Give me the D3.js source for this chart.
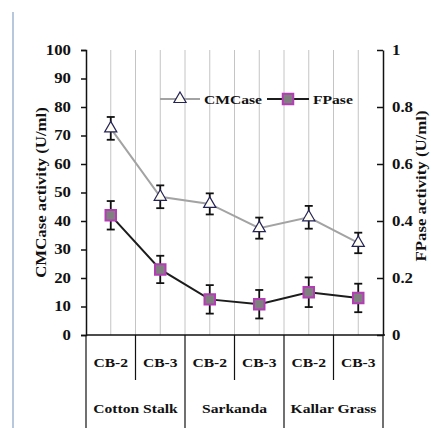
<!DOCTYPE html>
<meta charset="utf-8">
<style>
    body { margin: 0; background: #fff; }
    text { font-family: "Liberation Serif", "Times New Roman", serif; font-weight: bold; fill: #111; }
    .grid line { stroke: #c4c4c4; stroke-width: 1; }
</style>
<body>
<script src="https://d3js.org/d3.v7.min.js"></script>
<script>
    // data
    var groups = ["Cotton Stalk", "Sarkanda", "Kallar Grass"];
    var strains = ["CB-2", "CB-3"];
    var cmcase = [72.5, 48.5, 46, 37.5, 41.3, 32.3];
    var cmcaseErr = [4, 4, 3.7, 3.7, 4, 3.6];
    var fpase = [0.42, 0.23, 0.125, 0.108, 0.15, 0.13];
    var fpaseErr = [0.05, 0.048, 0.05, 0.05, 0.052, 0.05];
    var leftTicks = [0, 10, 20, 30, 40, 50, 60, 70, 80, 90, 100];
    var rightTicks = [0, 0.2, 0.4, 0.6, 0.8, 1];

    // one key per point
    var keys = [];
    groups.forEach(function(g) {
        strains.forEach(function(s) { keys.push(g + "|" + s); });
    });

    var W = 431, H = 428;
    var plotL = 86, plotR = 383, plotT = 50, plotB = 335;
    var sx = "scale(1.2,1)";

    var x = d3.scaleBand().domain(keys).range([plotL, plotR]).padding(0);
    var yL = d3.scaleLinear().domain([0, 100]).range([plotB, plotT]);
    var yR = d3.scaleLinear().domain([0, 1]).range([plotB, plotT]);
    var cx = function(i) { return x(keys[i]) + x.bandwidth() / 2; };

    var svg = d3.select("body").append("svg")
        .attr("width", W)
        .attr("height", H);

    // thin blue frame line on the left
    svg.append("line")
        .attr("x1", 13).attr("x2", 13)
        .attr("y1", 12).attr("y2", H)
        .attr("stroke", "#9fb4d0").attr("stroke-width", 1.5);

    // vertical gridlines at every half category
    var gridX = [];
    keys.forEach(function(k, i) {
        gridX.push(cx(i));
        if (i > 0) gridX.push(x(k));
    });
    svg.append("g").attr("class", "grid")
        .selectAll("line").data(gridX).enter().append("line")
        .attr("x1", function(d) { return d; })
        .attr("x2", function(d) { return d; })
        .attr("y1", plotT).attr("y2", plotB);

    // left axis
    var gl = svg.append("g")
        .attr("transform", "translate(" + plotL + ",0)")
        .call(d3.axisLeft(yL).tickValues(leftTicks).tickSize(5).tickSizeOuter(5));
    gl.select(".domain").attr("stroke", "#111").attr("stroke-width", 1.5);
    gl.selectAll(".tick line").attr("stroke", "#111").attr("stroke-width", 1.5);
    gl.selectAll("text")
        .attr("x", -15 / 1.2)
        .attr("transform", sx)
        .style("font-size", "14px")
        .style("font-family", "Liberation Serif")
        .style("font-weight", "bold");

    // right axis, ticks pointing inward
    var gr = svg.append("g")
        .attr("transform", "translate(" + plotR + ",0)")
        .call(d3.axisRight(yR).tickValues(rightTicks).tickSize(-6).tickSizeOuter(0)
            .tickFormat(function(d) { return String(d); }));
    gr.select(".domain").attr("stroke", "#111").attr("stroke-width", 1.5);
    gr.selectAll(".tick line").attr("stroke", "#111").attr("stroke-width", 1.5);
    gr.selectAll("text")
        .attr("x", 9 / 1.2)
        .attr("transform", sx)
        .style("font-size", "14px")
        .style("font-family", "Liberation Serif")
        .style("font-weight", "bold");

    // x axis line
    svg.append("line")
        .attr("x1", plotL).attr("x2", plotR + 2)
        .attr("y1", plotB).attr("y2", plotB)
        .attr("stroke", "#111").attr("stroke-width", 1.5);

    // multi-level category axis
    var gb = svg.append("g");
    keys.forEach(function(k, i) {
        var si = i % strains.length;
        var xl = x(k);
        gb.append("line")
            .attr("x1", xl).attr("x2", xl)
            .attr("y1", plotB)
            .attr("y2", si === 0 ? H : 380)
            .attr("stroke", "#111").attr("stroke-width", 1.2);
        gb.append("text")
            .attr("transform", "translate(" + cx(i) + ",367) " + sx)
            .attr("text-anchor", "middle")
            .style("font-size", "13px")
            .text(strains[si]);
    });
    gb.append("line")
        .attr("x1", plotR).attr("x2", plotR)
        .attr("y1", plotB).attr("y2", H)
        .attr("stroke", "#111").attr("stroke-width", 1.2);
    groups.forEach(function(g) {
        var x0 = x(g + "|" + strains[0]);
        var x1 = x(g + "|" + strains[strains.length - 1]) + x.bandwidth();
        gb.append("text")
            .attr("transform", "translate(" + ((x0 + x1) / 2) + ",413) " + sx)
            .attr("text-anchor", "middle")
            .style("font-size", "13px")
            .text(g);
    });

    // axis titles
    svg.append("text")
        .attr("transform", "translate(46," + ((plotT + plotB) / 2) + ") rotate(-90) " + sx)
        .attr("text-anchor", "middle")
        .style("font-size", "14px")
        .text("CMCase activity (U/ml)");
    svg.append("text")
        .attr("transform", "translate(426,186) rotate(-90) " + sx)
        .attr("text-anchor", "middle")
        .style("font-size", "14px")
        .text("FPase activity (U/ml)");

    // series lines
    var lineL = d3.line()
        .x(function(d, i) { return cx(i); })
        .y(function(d) { return yL(d); });
    var lineR = d3.line()
        .x(function(d, i) { return cx(i); })
        .y(function(d) { return yR(d); });

    svg.append("path")
        .datum(cmcase)
        .attr("d", lineL)
        .attr("fill", "none").attr("stroke", "#a3a3a3").attr("stroke-width", 2);
    svg.append("path")
        .datum(fpase)
        .attr("d", lineR)
        .attr("fill", "none").attr("stroke", "#1c1c1c").attr("stroke-width", 2);

    // error bars
    function errorBars(vals, errs, y) {
        var g = svg.append("g").attr("stroke", "#111").attr("stroke-width", 1.8);
        vals.forEach(function(v, i) {
            var c = cx(i);
            g.append("line").attr("x1", c).attr("x2", c)
                .attr("y1", y(v + errs[i])).attr("y2", y(v - errs[i]));
            [v + errs[i], v - errs[i]].forEach(function(e) {
                g.append("line").attr("x1", c - 4).attr("x2", c + 4)
                    .attr("y1", y(e)).attr("y2", y(e));
            });
        });
    }
    errorBars(cmcase, cmcaseErr, yL);
    errorBars(fpase, fpaseErr, yR);

    // markers
    var tri = d3.symbol().type(d3.symbolTriangle).size(64);
    var sq = d3.symbol().type(d3.symbolSquare).size(110);

    svg.append("g").selectAll("path").data(cmcase).enter().append("path")
        .attr("d", tri)
        .attr("transform", function(d, i) { return "translate(" + cx(i) + "," + yL(d) + ")"; })
        .attr("fill", "#fffef0").attr("stroke", "#23235a").attr("stroke-width", 1.2);
    svg.append("g").selectAll("path").data(fpase).enter().append("path")
        .attr("d", sq)
        .attr("transform", function(d, i) { return "translate(" + cx(i) + "," + yR(d) + ")"; })
        .attr("fill", "#808080").attr("stroke", "#b43cb4").attr("stroke-width", 2);

    // legend
    var lg = svg.append("g");
    lg.append("line").attr("x1", 160).attr("x2", 200).attr("y1", 99).attr("y2", 99)
        .attr("stroke", "#a3a3a3").attr("stroke-width", 2);
    lg.append("path").attr("d", tri).attr("transform", "translate(180,99)")
        .attr("fill", "#fffef0").attr("stroke", "#23235a").attr("stroke-width", 1.2);
    lg.append("text").attr("transform", "translate(204,104) " + sx)
        .style("font-size", "13px").text("CMCase");
    lg.append("line").attr("x1", 267).attr("x2", 309).attr("y1", 99).attr("y2", 99)
        .attr("stroke", "#1c1c1c").attr("stroke-width", 2);
    lg.append("path").attr("d", sq).attr("transform", "translate(288,99)")
        .attr("fill", "#808080").attr("stroke", "#b43cb4").attr("stroke-width", 2);
    lg.append("text").attr("transform", "translate(313,104) " + sx)
        .style("font-size", "13px").text("FPase");
</script>
</body>
